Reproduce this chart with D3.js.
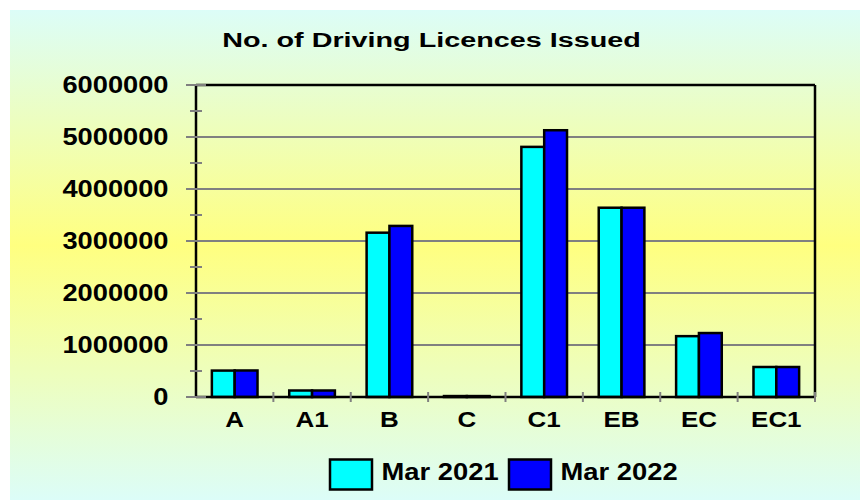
<!DOCTYPE html>
<html>
<head>
<meta charset="utf-8">
<script src="https://cdn.jsdelivr.net/npm/d3@7"></script>
<style>
  html, body { margin: 0; padding: 0; background: #fff; }
  svg { display: block; }
  text { font-family: "Liberation Sans", Arial, sans-serif; font-weight: bold; fill: #000; }
</style>
</head>
<body>
<div id="chart"></div>
<script>
// Chart data
const categories = ["A", "A1", "B", "C", "C1", "EB", "EC", "EC1"];
const seriesNames = ["Mar 2021", "Mar 2022"];
const mar2021 = [508000, 125000, 3160000, 18000, 4810000, 3640000, 1170000, 577000];
const mar2022 = [510000, 125000, 3290000, 18000, 5130000, 3640000, 1230000, 577000];
const yTicks = [0, 1000000, 2000000, 3000000, 4000000, 5000000, 6000000];
const yMinorTicks = [500000, 1500000, 2500000, 3500000, 4500000, 5500000];

const colors = { "Mar 2021": "#00ffff", "Mar 2022": "#0000ff" };

const W = 860, H = 501;
const plot = { left: 196, right: 815, top: 85, bottom: 397 };

const svg = d3.select("#chart").append("svg")
  .attr("width", W).attr("height", H);

// Background gradient
const grad = svg.append("defs").append("linearGradient")
  .attr("id", "bg").attr("x1", 0).attr("y1", 0).attr("x2", 0).attr("y2", 1);
grad.append("stop").attr("offset", "0%").attr("stop-color", "#dcfdf8");
grad.append("stop").attr("offset", "48%").attr("stop-color", "#ffff80");
grad.append("stop").attr("offset", "100%").attr("stop-color", "#dcfdf8");

svg.append("rect")
  .attr("x", 10).attr("y", 10).attr("width", W - 10).attr("height", H - 11)
  .attr("fill", "url(#bg)");

// stretched text helper (the original is horizontally widened)
function label(parent, x, y, str, size, sx, anchor) {
  return parent.append("text")
    .attr("transform", `translate(${x},${y}) scale(${sx},1)`)
    .attr("text-anchor", anchor)
    .style("font-size", size + "px")
    .text(str);
}

// Title
label(svg, 431.5, 47, "No. of Driving Licences Issued", 21, 1.37, "middle");

// Scales
const x0 = d3.scaleBand().domain(categories).range([plot.left, plot.right]);
const x1 = d3.scaleBand().domain(seriesNames)
  .range([x0.bandwidth() * 0.205, x0.bandwidth() * 0.795]);
const y = d3.scaleLinear().domain([0, 6000000]).range([plot.bottom, plot.top]);

const g = svg.append("g");

// Gridlines
g.selectAll("line.grid")
  .data(yTicks.filter(d => d > 0 && d < 6000000))
  .enter().append("line")
  .attr("x1", plot.left).attr("x2", plot.right)
  .attr("y1", d => y(d)).attr("y2", d => y(d))
  .attr("stroke", "#808080").attr("stroke-width", 2);

// Frame (top + right)
g.append("line").attr("x1", plot.left).attr("x2", plot.right)
  .attr("y1", plot.top).attr("y2", plot.top)
  .attr("stroke", "#000").attr("stroke-width", 2.5);
g.append("line").attr("x1", plot.right).attr("x2", plot.right)
  .attr("y1", plot.top).attr("y2", plot.bottom)
  .attr("stroke", "#000").attr("stroke-width", 2.5);

// Bars
const rows = categories.map((c, i) => ({ cat: c, vals: [mar2021[i], mar2022[i]] }));
const groups = g.selectAll("g.cat").data(rows).enter().append("g")
  .attr("transform", d => `translate(${x0(d.cat)},0)`);

groups.selectAll("rect")
  .data(d => d.vals.map((v, i) => ({ key: seriesNames[i], value: v })))
  .enter().append("rect")
  .attr("x", d => x1(d.key))
  .attr("width", x1.bandwidth())
  .attr("y", d => y(d.value))
  .attr("height", d => y(0) - y(d.value))
  .attr("fill", d => colors[d.key])
  .attr("stroke", "#000").attr("stroke-width", 2.5);

// Axes lines
g.append("line").attr("x1", plot.left).attr("x2", plot.right)
  .attr("y1", plot.bottom).attr("y2", plot.bottom)
  .attr("stroke", "#000").attr("stroke-width", 2.5);
g.append("line").attr("x1", plot.left).attr("x2", plot.left)
  .attr("y1", plot.top).attr("y2", plot.bottom)
  .attr("stroke", "#000").attr("stroke-width", 2.5);

// Y ticks (major and minor, crossing the axis)
g.selectAll("line.major").data(yTicks).enter().append("line")
  .attr("x1", plot.left - 10).attr("x2", plot.left + 10)
  .attr("y1", d => y(d)).attr("y2", d => y(d))
  .attr("stroke", "#808080").attr("stroke-width", 2);
g.selectAll("line.minor").data(yMinorTicks).enter().append("line")
  .attr("x1", plot.left - 6).attr("x2", plot.left + 6)
  .attr("y1", d => y(d)).attr("y2", d => y(d))
  .attr("stroke", "#808080").attr("stroke-width", 2);

// X ticks at category boundaries
const bounds = categories.slice(1).map(c => x0(c)).concat([plot.right]);
g.selectAll("line.xt").data(bounds).enter().append("line")
  .attr("x1", d => d).attr("x2", d => d)
  .attr("y1", plot.bottom - 5).attr("y2", plot.bottom + 5)
  .attr("stroke", "#808080").attr("stroke-width", 2);

// Y labels
yTicks.forEach(t => label(svg, 168.5, y(t) + 8.4, String(t), 23.5, 1.16, "end"));

// X labels
categories.forEach(c => label(svg, x0(c) + x0.bandwidth() / 2, 426.5, c, 22, 1.18, "middle"));

// Legend
const legendX = [330, 509];
seriesNames.forEach((s, i) => {
  svg.append("rect")
    .attr("x", legendX[i]).attr("y", 459.5).attr("width", 42).attr("height", 30)
    .attr("fill", colors[s]).attr("stroke", "#000").attr("stroke-width", 2.5);
  label(svg, legendX[i] + 51.5, 480, s, 23, 1.19, "start");
});
</script>
</body>
</html>
